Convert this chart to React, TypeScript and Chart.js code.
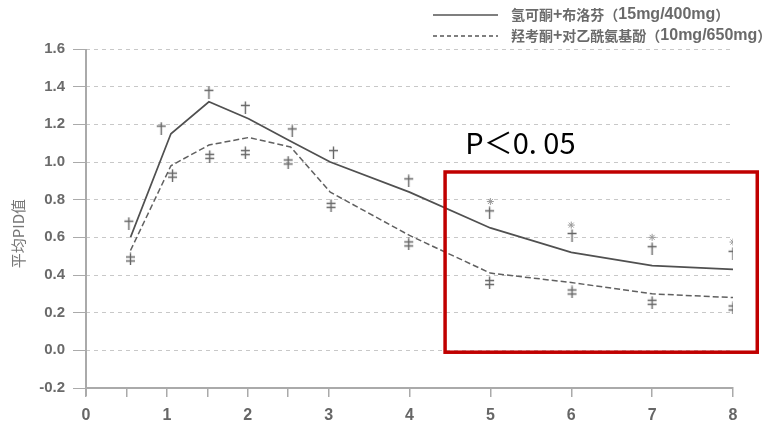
import React, { useEffect, useRef } from "react";
import { Chart, registerables } from "chart.js";

Chart.register(...registerables);

// ---- data ----
const lineTimesA = [0.55, 1.05, 1.52, 2.01, 2.53, 3.02, 4, 5, 6, 7, 8];
const lineValuesA = [0.6, 1.15, 1.32, 1.23, 1.11, 1.0, 0.84, 0.65, 0.52, 0.45, 0.43];
const lineTimesB = [0.55, 1.05, 1.52, 2.01, 2.53, 3.02, 4, 5, 6, 7, 8];
const lineValuesB = [0.53, 0.98, 1.09, 1.13, 1.08, 0.84, 0.61, 0.41, 0.36, 0.3, 0.28];
const markTimesA = [0.53, 0.93, 1.52, 1.97, 2.55, 3.06, 3.99, 4.99, 6.01, 7.0, 8.0];
const markValuesA = [0.675, 1.18, 1.37, 1.29, 1.165, 1.05, 0.9, 0.73, 0.61, 0.54, 0.515];
const markTimesB = [0.55, 1.07, 1.53, 1.97, 2.5, 3.03, 3.99, 4.99, 6.01, 7.0, 8.0];
const markValuesB = [0.485, 0.93, 1.03, 1.05, 1.0, 0.77, 0.565, 0.36, 0.31, 0.255, 0.225];
const starTimes = [5, 6, 7, 8];
const starValues = [0.79, 0.665, 0.6, 0.575];
const xTickValues = [0, 0.5, 1, 1.5, 2, 2.5, 3, 4, 5, 6, 7, 8];
const legendLabels = ["氢可酮+布洛芬（15mg/400mg）", "羟考酮+对乙酰氨基酚（10mg/650mg）"];
const yTitle = "平均PID值";
const yTitleAt = 0.62;
const noteText = "P＜0. 05";
const noteAt = { x: 4.69, y: 1.1 };
const boxRange = { x0: 4.44, x1: 8.3, y0: 0.947, y1: -0.01 };

function makeDagger(double: boolean): HTMLCanvasElement {
  const c = document.createElement("canvas");
  c.width = 11;
  c.height = 13;
  const g = c.getContext("2d")!;
  g.strokeStyle = "#666";
  g.lineWidth = 1.4;
  g.beginPath();
  g.moveTo(5.5, 0.5);
  g.lineTo(5.5, 13);
  g.moveTo(1, 4.5);
  g.lineTo(10, 4.5);
  if (double) {
    g.moveTo(1, 8.5);
    g.lineTo(10, 8.5);
  }
  g.stroke();
  return c;
}

const toXY = (xs: number[], ys: number[]) => xs.map((x, i) => ({ x, y: ys[i] }));

const CJK_FONT = "bold 14px 'Noto Sans CJK SC', sans-serif";
const LATIN_FONT = "bold 16px 'Liberation Sans', Arial, sans-serif";

function drawMixed(ctx: CanvasRenderingContext2D, text: string, x: number, y: number) {
  const runs = text.match(/[\u3000-\u9fff\uff00-\uffef]+|[^\u3000-\u9fff\uff00-\uffef]+/g) || [];
  let cx = x;
  runs.forEach((r) => {
    const cjk = /[\u3000-\u9fff\uff00-\uffef]/.test(r);
    ctx.font = cjk ? CJK_FONT : LATIN_FONT;
    ctx.fillText(r, cx, y);
    cx += ctx.measureText(r).width;
  });
}

const overlayPlugin = {
  id: "overlay",
  afterDraw(chart: any) {
    const ctx = chart.ctx;
    const xs = chart.scales.x;
    const ys = chart.scales.y;
    const area = chart.chartArea;
    ctx.save();
    // y axis line
    ctx.strokeStyle = "#aaa";
    ctx.lineWidth = 2;
    ctx.beginPath();
    ctx.moveTo(area.left, area.top);
    ctx.lineTo(area.left, area.bottom + 8);
    ctx.stroke();
    // y title
    ctx.save();
    ctx.translate(18, ys.getPixelForValue(yTitleAt));
    ctx.rotate(-Math.PI / 2);
    ctx.fillStyle = "#777";
    ctx.font = "15px 'Noto Sans CJK SC', sans-serif";
    ctx.textAlign = "center";
    ctx.textBaseline = "middle";
    ctx.fillText(yTitle, 0, 0);
    ctx.restore();
    // red box
    const bx0 = xs.getPixelForValue(boxRange.x0);
    const bx1 = xs.getPixelForValue(boxRange.x1);
    const by0 = ys.getPixelForValue(boxRange.y0);
    const by1 = ys.getPixelForValue(boxRange.y1);
    ctx.strokeStyle = "#c00000";
    ctx.lineWidth = 3.5;
    ctx.strokeRect(bx0, by0, bx1 - bx0, by1 - by0);
    // note text
    ctx.fillStyle = "#000";
    ctx.font = "29px 'Noto Sans CJK SC', sans-serif";
    ctx.textBaseline = "middle";
    ctx.textAlign = "left";
    ctx.fillText(noteText, xs.getPixelForValue(noteAt.x), ys.getPixelForValue(noteAt.y));
    // legend
    const lx0 = 433, lx1 = 498, tx = 511;
    const rows = [15, 36];
    ctx.strokeStyle = "#555";
    ctx.lineWidth = 1.5;
    rows.forEach((yy, i) => {
      ctx.setLineDash(i === 0 ? [] : [4, 3]);
      ctx.beginPath();
      ctx.moveTo(lx0, yy);
      ctx.lineTo(lx1, yy);
      ctx.stroke();
      ctx.setLineDash([]);
      ctx.fillStyle = "#6a6a6a";
      ctx.textBaseline = "middle";
      drawMixed(ctx, legendLabels[i], tx, yy);
    });
    ctx.restore();
  },
};

export default function App() {
  const ref = useRef<HTMLCanvasElement>(null);
  useEffect(() => {
    const dagger = makeDagger(false);
    const dagger2 = makeDagger(true);
    const chart = new Chart(ref.current!, {
      type: "scatter",
      data: {
        datasets: [
          {
            label: legendLabels[0],
            data: toXY(lineTimesA, lineValuesA),
            showLine: true,
            borderColor: "#505050",
            borderWidth: 1.7,
            pointRadius: 0,
            tension: 0,
          },
          {
            label: legendLabels[1],
            data: toXY(lineTimesB, lineValuesB),
            showLine: true,
            borderColor: "#606060",
            borderWidth: 1.5,
            borderDash: [6, 3],
            pointRadius: 0,
            tension: 0,
          },
          {
            label: "a",
            data: toXY(markTimesA, markValuesA),
            pointStyle: dagger as any,
            pointRadius: 6,
          },
          {
            label: "b",
            data: toXY(markTimesB, markValuesB),
            pointStyle: dagger2 as any,
            pointRadius: 6,
          },
          {
            label: "star",
            data: toXY(starTimes, starValues),
            pointStyle: "star",
            pointRadius: 3.5,
            borderColor: "#999",
            borderWidth: 1,
          },
        ],
      },
      options: {
        animation: false,
        responsive: false,
        layout: { padding: { left: 10, top: 49, right: 40, bottom: 0 } },
        plugins: { legend: { display: false }, tooltip: { enabled: false } },
        scales: {
          x: {
            type: "linear",
            min: 0,
            max: 8,
            afterBuildTicks: (s: any) => {
              s.ticks = xTickValues.map((v) => ({ value: v }));
            },
            afterFit: (s: any) => {
              s.height = 34;
            },
            border: { color: "#aaa", width: 2 },
            grid: { drawOnChartArea: false, tickLength: 9, tickColor: "#aaa", lineWidth: 1.5 },
            ticks: {
              color: "#666",
              font: { size: 16, weight: "bold", family: "Arial, 'Liberation Sans', sans-serif" },
              padding: 9,
              maxRotation: 0,
              autoSkip: false,
              callback: (v: any) => (Number.isInteger(v) ? String(v) : ""),
            },
          },
          y: {
            min: -0.2,
            max: 1.6,
            afterFit: (s: any) => {
              s.width = 76;
            },
            border: { display: false, dash: [4, 4] },
            grid: {
              color: (c: any) => (c.tick && c.tick.value < -0.1 ? "rgba(0,0,0,0)" : "#c8c8c8"),
              tickLength: 13,
              tickColor: "#aaa",
              tickBorderDash: [],
              lineWidth: 1,
            } as any,
            ticks: {
              stepSize: 0.2,
              color: "#6a6a6a",
              padding: 8,
              font: { size: 15, weight: "bold", family: "Arial, 'Liberation Sans', sans-serif" },
              callback: (v: any) => Number(v).toFixed(1),
            },
            title: { display: false },
          },
        },
      },
      plugins: [overlayPlugin],
    });
    return () => chart.destroy();
  }, []);
  return (
    <div style={{ position: "fixed", left: 0, top: 0, width: 773, height: 422, background: "#fff" }}>
      <canvas ref={ref} width={773} height={422} />
    </div>
  );
}
